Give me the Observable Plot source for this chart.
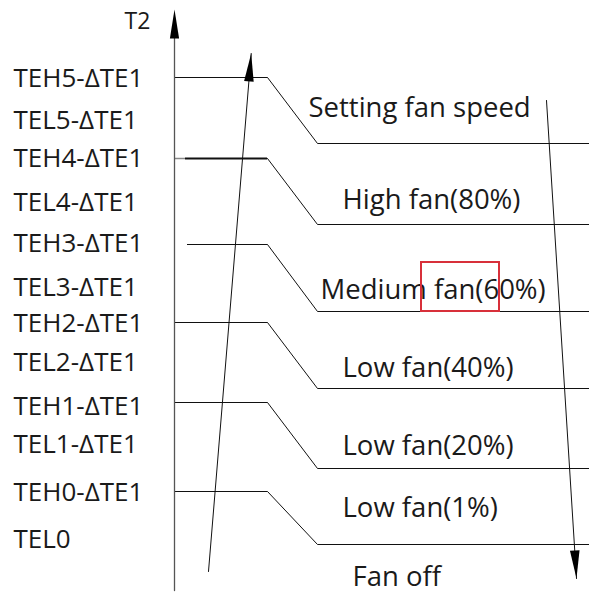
<!DOCTYPE html>
<html>
<head>
<meta charset="utf-8">
<script src="https://cdn.jsdelivr.net/npm/d3@7"></script>
<script src="https://cdn.jsdelivr.net/npm/@observablehq/plot@0.6"></script>
<style>
  html, body { margin: 0; padding: 0; background: #fff; }
</style>
</head>
<body>
<div id="chart"></div>
<script>
// ---- Data (diagram units = read positions) ----
const thresholdLabels = ["TEH5-ΔTE1","TEL5-ΔTE1","TEH4-ΔTE1","TEL4-ΔTE1","TEH3-ΔTE1","TEL3-ΔTE1",
  "TEH2-ΔTE1","TEL2-ΔTE1","TEH1-ΔTE1","TEL1-ΔTE1","TEH0-ΔTE1","TEL0"];
const thresholdY = [78,120,158,202,243,287,323,362,406,444,492,539];

const fanLabels = ["Setting fan speed","High fan(80%)","Medium fan(60%)","Low fan(40%)","Low fan(20%)","Low fan(1%)","Fan off"];
const fanLabelX = [308,342,320,342,342,342,352];
const fanLabelY = [108,200,290,368,446,508,577];

// step lines: upper level (TEH), lower level (TEL)
const stepUpperY = [77,158,244,322,402,491];
const stepLowerY = [143,224,311,388,468,544];
const stepStartX = [174,185,187,174,174,174];
const stepUpperWidth = [1,2.2,1,1,1,1];
const bendX1 = 267, bendX2 = 317, rightX = 589;

// axis
const axisX = 174, axisBottom = 590, axisTip = 9;
// rising / falling arrows [from, to]
const riseArrow = [[208,571],[250.7,53]];
const fallArrow = [[546,100],[576,578]];
// highlight box
const highlight = {x1:421, x2:499, y1:262, y2:311};

// ---- build tables ----
const upperSegs = stepUpperY.map((uy,i)=>({x1:stepStartX[i], x2:bendX1, y:uy, w:stepUpperWidth[i]}));
const lowerPaths = stepUpperY.map((uy,i)=>[
  {x:bendX1, y:uy, s:i},
  {x:bendX2, y:stepLowerY[i], s:i},
  {x:rightX, y:stepLowerY[i], s:i}
]).flat();

function head(from, to, len, half){
  const dx = to[0]-from[0], dy = to[1]-from[1], d = Math.hypot(dx,dy);
  const ux = dx/d, uy = dy/d, nx = -uy, ny = ux;
  const bx = to[0]-ux*len, by = to[1]-uy*len;
  return [{x:to[0],y:to[1]},{x:bx+nx*half,y:by+ny*half},{x:bx-nx*half,y:by-ny*half},{x:to[0],y:to[1]}];
}
const axisLine = [{x:axisX,y:axisBottom},{x:axisX,y:axisTip+10}];
const axisHead = head([axisX,axisBottom],[axisX,axisTip],29,4.6);
const riseLine = riseArrow.map(([x,y])=>({x,y}));
const riseHead = head(riseArrow[0],riseArrow[1],28,4.8);
const fallLine = fallArrow.map(([x,y])=>({x,y}));
const fallHead = head(fallArrow[0],fallArrow[1],28,4.8);

const leftTable = thresholdLabels.map((t,i)=>({t, y:thresholdY[i]}));
const fanTable = fanLabels.map((t,i)=>({t, x:fanLabelX[i], y:fanLabelY[i]}));

const font = "'Open Sans','Noto Sans',sans-serif";
const marks = [
  // upper horizontal segments
  Plot.ruleY(upperSegs, {y:"y", x1:"x1", x2:"x2", stroke:"#111", strokeWidth:"w"}),
  // diagonal + lower level
  Plot.line(lowerPaths, {x:"x", y:"y", z:"s", stroke:"#111", strokeWidth:1, strokeLinejoin:"miter"}),
  // small grey stub of TEH4 line touching axis
  Plot.ruleY([stepUpperY[1]], {x1:()=>axisX, x2:()=>stepStartX[1], stroke:"#888", strokeWidth:1.5}),
  // axis
  Plot.line(axisLine, {x:"x", y:"y", stroke:"#555", strokeWidth:1.3}),
  Plot.line(axisHead, {x:"x", y:"y", stroke:"none", fill:"#000"}),
  // arrows
  Plot.line(riseLine, {x:"x", y:"y", stroke:"#111", strokeWidth:1}),
  Plot.line(riseHead, {x:"x", y:"y", stroke:"none", fill:"#000"}),
  Plot.line(fallLine, {x:"x", y:"y", stroke:"#111", strokeWidth:1}),
  Plot.line(fallHead, {x:"x", y:"y", stroke:"none", fill:"#000"}),
  // labels
  Plot.text(leftTable, {x:()=>13, y:"y", text:"t", textAnchor:"start", lineAnchor:"middle",
    fontSize:26, fill:"#1a1a1a", fontFamily:font}),
  Plot.text([{t:"T2"}], {x:()=>124, y:()=>21.5, text:"t", textAnchor:"start", lineAnchor:"middle",
    fontSize:23, fill:"#1a1a1a", fontFamily:font}),
  Plot.text(fanTable, {x:"x", y:"y", text:"t", textAnchor:"start", lineAnchor:"middle",
    fontSize:27.5, fill:"#1a1a1a", fontFamily:font}),
  // highlight box
  Plot.rect([highlight], {x1:"x1", x2:"x2", y1:"y1", y2:"y2", fill:"none", stroke:"#d8303a", strokeWidth:2})
];

const chart = Plot.plot({
  width: 589, height: 595,
  margin: 0,
  x: {domain:[0,589], axis:null},
  y: {domain:[595,0], axis:null},
  style: {background:"#fff", overflow:"visible"},
  marks
});
document.getElementById("chart").appendChild(chart);
</script>
</body>
</html>
